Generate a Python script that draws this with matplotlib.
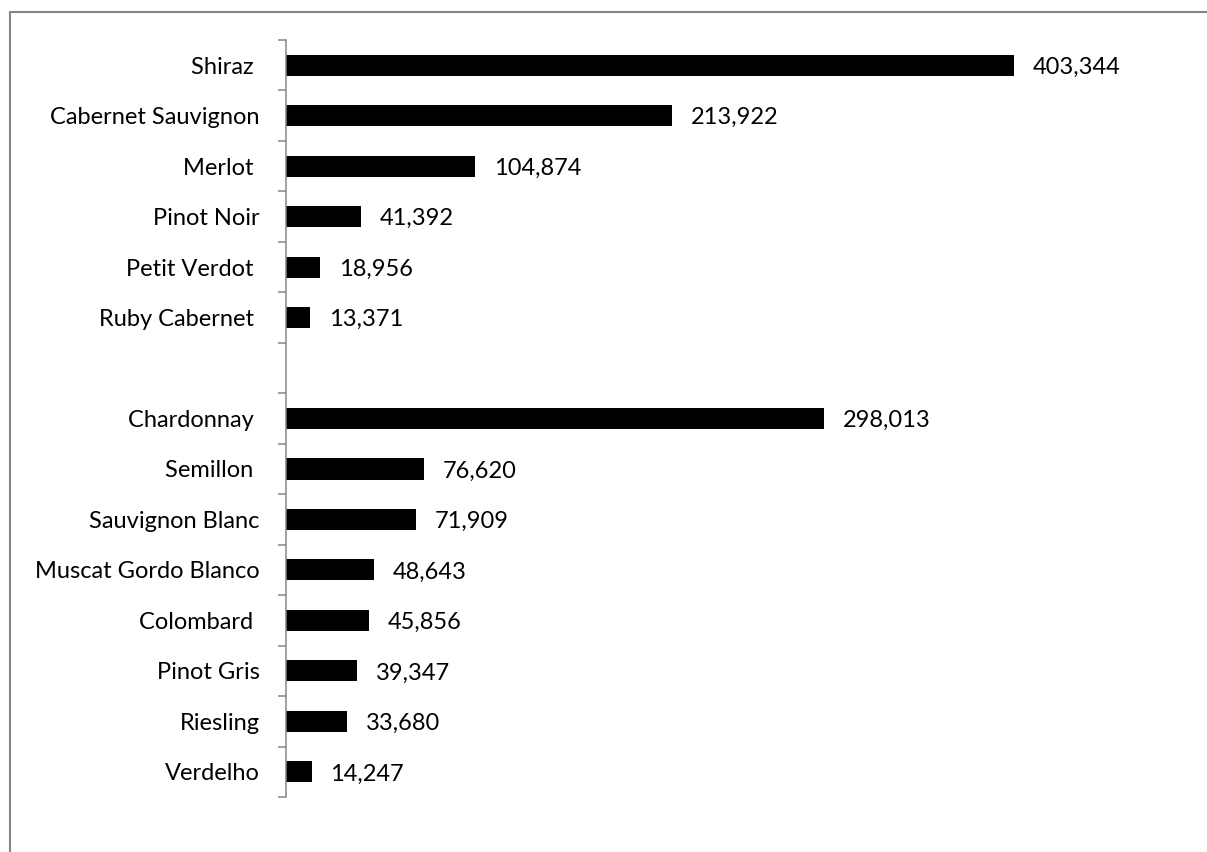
import matplotlib
matplotlib.use("Agg")
import matplotlib.pyplot as plt
from matplotlib.lines import Line2D

categories = ["Shiraz ", "Cabernet Sauvignon", "Merlot ", "Pinot Noir", "Petit Verdot ",
              "Ruby Cabernet ", "", "Chardonnay ", "Semillon ", "Sauvignon Blanc",
              "Muscat Gordo Blanco", "Colombard ", "Pinot Gris", "Riesling", "Verdelho"]
values = [403344, 213922, 104874, 41392, 18956, 13371, None, 298013, 76620, 71909,
          48643, 45856, 39347, 33680, 14247]

plt.rcParams['font.family'] = ['Lato', 'DejaVu Sans']

fig = plt.figure(figsize=(12.07, 8.52), dpi=100)
ax = fig.add_axes([286/1207, 1-797/852, (1188.5-286)/1207, (797-40)/852])

ypos = list(range(len(categories)))
for y, v in zip(ypos, values):
    if v is None:
        continue
    ax.barh(y, v, height=0.42, color="black", edgecolor="black", linewidth=0)
    ax.annotate(f"{v:,}", xy=(v, y), xytext=(13.5, -1.5), textcoords="offset points",
                va="center", ha="left", fontsize=17, color="black")

ax.set_xlim(0, 500000)
ax.set_ylim(len(categories)-0.5, -0.5)
ax.set_yticks(ypos)
ax.set_yticklabels(categories, fontsize=17)
ax.tick_params(axis="y", which="major", length=0, pad=19)
ax.set_yticks([i - 0.5 for i in range(len(categories)+1)], minor=True)
ax.tick_params(axis="y", which="minor", length=6, width=1.1, color="#868686", direction="out")
ax.set_xticks([])
for s in ["top", "right", "bottom"]:
    ax.spines[s].set_visible(False)
ax.spines["left"].set_color("#868686")
ax.spines["left"].set_linewidth(1.1)

fig.add_artist(Line2D([9.5/1207, 9.5/1207], [0, 1-11.5/852], transform=fig.transFigure,
                      color="#868686", linewidth=1.5))
fig.add_artist(Line2D([9.5/1207, 1], [1-11.5/852, 1-11.5/852], transform=fig.transFigure,
                      color="#868686", linewidth=1.5))

fig.savefig("out.png", dpi=100, facecolor="white")
